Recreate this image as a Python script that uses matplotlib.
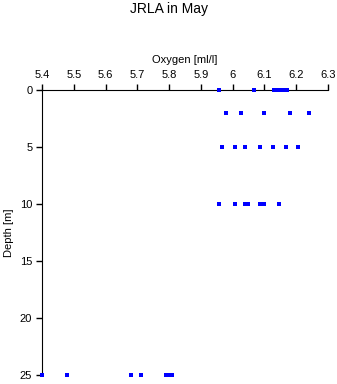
import matplotlib
matplotlib.use("Agg")
import matplotlib.pyplot as plt

plt.rcParams['font.family'] = ['Liberation Sans', 'DejaVu Sans']

# oxygen readings by depth (ml/l)
depth_0 = [5.958, 6.068, 6.13, 6.14, 6.15, 6.16, 6.17]
depth_2 = [5.978, 6.027, 6.098, 6.179, 6.239]
depth_5 = [5.968, 6.008, 6.038, 6.087, 6.128, 6.168, 6.207]
depth_10 = [5.958, 6.008, 6.038, 6.048, 6.087, 6.098, 6.147]
depth_25 = [5.40, 5.48, 5.68, 5.71, 5.79, 5.80, 5.81]
depths = [0, 2, 5, 10, 25]
groups = [depth_0, depth_2, depth_5, depth_10, depth_25]

fig = plt.figure(figsize=(3.37, 3.84), dpi=100)
ax = fig.add_axes([42/337, 1 - 375/384, 286/337, 285/384])

for d, vals in zip(depths, groups):
    ax.plot(vals, [d] * len(vals), 's', color='#0000ff', ms=3.0, mew=0,
            clip_on=False, zorder=5)

ax.set_xlim(5.4, 6.3)
ax.set_ylim(25, 0)
ax.set_xticks([5.4, 5.5, 5.6, 5.7, 5.8, 5.9, 6.0, 6.1, 6.2, 6.3])
ax.set_xticklabels(['5.4', '5.5', '5.6', '5.7', '5.8', '5.9', '6', '6.1', '6.2', '6.3'])
ax.set_yticks([0, 5, 10, 15, 20, 25])
ax.xaxis.tick_top()
ax.xaxis.set_label_position('top')
ax.tick_params(labelsize=8, length=4, width=1, pad=3)
ax.spines['right'].set_visible(False)
ax.spines['bottom'].set_visible(False)
ax.set_xlabel('Oxygen [ml/l]', fontsize=8, labelpad=5)
ax.set_ylabel('Depth [m]', fontsize=8, labelpad=4)
fig.text(0.5, 1 - 9/384, 'JRLA in May', ha='center', va='center', fontsize=10)

fig.savefig('out.png', dpi=100)
